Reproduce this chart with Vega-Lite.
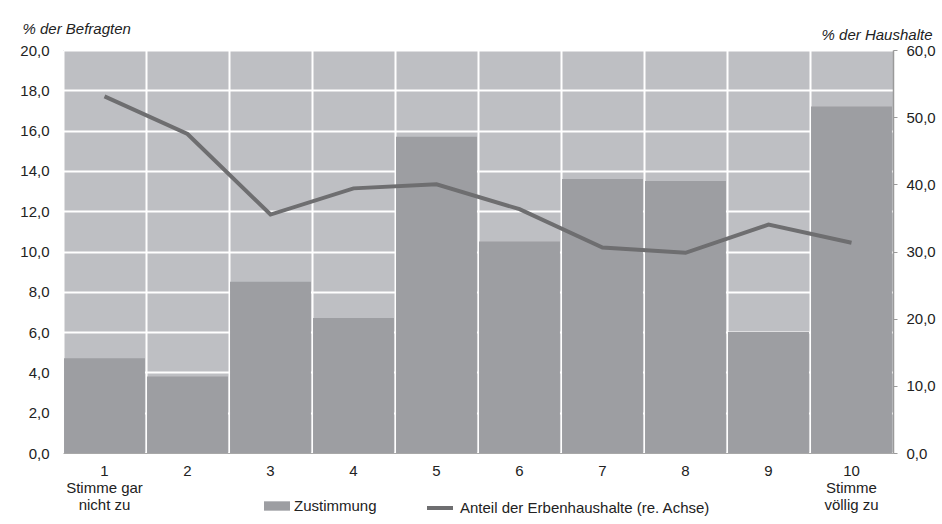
{
  "$schema": "https://vega.github.io/schema/vega-lite/v6.json",
  "width": 830,
  "height": 403,
  "autosize": "none",
  "padding": {"left": 63, "top": 50, "right": 49, "bottom": 71},
  "background": "white",
  "config": {
    "view": {"fill": "#bebfc3", "stroke": null},
    "font": "Liberation Sans",
    "axis": {"labelFont": "Liberation Sans", "titleFont": "Liberation Sans", "labelColor": "#222222", "titleColor": "#222222"},
    "legend": {"labelFont": "Liberation Sans", "labelColor": "#222222", "padding": 0}
  },
  "data": {
    "values": [
      {"k": 1, "zust": 4.7, "erben": 53.1},
      {"k": 2, "zust": 3.8, "erben": 47.5},
      {"k": 3, "zust": 8.5, "erben": 35.5},
      {"k": 4, "zust": 6.7, "erben": 39.4},
      {"k": 5, "zust": 15.7, "erben": 40.0},
      {"k": 6, "zust": 10.5, "erben": 36.3},
      {"k": 7, "zust": 13.6, "erben": 30.6},
      {"k": 8, "zust": 13.5, "erben": 29.8},
      {"k": 9, "zust": 6.0, "erben": 34.0},
      {"k": 10, "zust": 17.2, "erben": 31.3}
    ]
  },
  "encoding": {
    "x": {
      "field": "k",
      "type": "ordinal",
      "scale": {"paddingInner": 0, "paddingOuter": 0},
      "axis": {
        "title": null,
        "labelAngle": 0,
        "labelFontSize": 15,
        "labelPadding": 10,
        "labelLineHeight": 17,
        "labelExpr": "datum.value == 1 ? ['1', '\u00a0\u00a0\u00a0\u00a0\u00a0\u00a0Stimme gar', 'nicht zu'] : datum.value == 10 ? ['10', 'Stimme', 'völlig zu'] : datum.label",
        "ticks": false,
        "domain": true,
        "domainColor": "#a8a8a8",
        "domainWidth": 1,
        "grid": true,
        "bandPosition": 0,
        "gridColor": "#ffffff",
        "gridWidth": 2,
        "gridOpacity": 1
      }
    }
  },
  "layer": [
    {
      "mark": {"type": "bar", "width": {"band": 0.975}},
      "encoding": {
        "y": {
          "field": "zust",
          "type": "quantitative",
          "scale": {"domain": [0, 20], "nice": false},
          "axis": {
            "title": "% der Befragten",
            "titleAngle": 0,
            "titleFontStyle": "italic",
            "titleFontWeight": "normal",
            "titleFontSize": 15,
            "titleAlign": "left",
            "titleBaseline": "middle",
            "titleX": -41,
            "titleY": -22,
            "values": [0, 2, 4, 6, 8, 10, 12, 14, 16, 18, 20],
            "labelExpr": "replace(format(datum.value, '.1f'), '.', ',')",
            "labelFontSize": 15,
            "labelPadding": 14,
            "ticks": false,
            "domain": false,
            "grid": true,
            "gridColor": "#ffffff",
            "gridWidth": 2,
            "gridOpacity": 1
          }
        },
        "fill": {
          "datum": "Zustimmung",
          "type": "nominal",
          "scale": {"range": ["#9d9ea2"]},
          "legend": {
            "title": null,
            "orient": "none",
            "legendX": 201,
            "legendY": 443,
            "direction": "horizontal",
            "symbolType": "M-1,-0.36H1V0.36H-1Z",
            "symbolSize": 676,
            "symbolStrokeWidth": 0,
            "symbolOpacity": 1,
            "labelFontSize": 15,
            "labelOffset": 4,
            "labelLimit": 400
          }
        }
      }
    },
    {
      "mark": {"type": "line", "strokeWidth": 4},
      "encoding": {
        "y": {
          "field": "erben",
          "type": "quantitative",
          "scale": {"domain": [0, 60], "nice": false},
          "axis": {
            "orient": "right",
            "title": "% der Haushalte",
            "titleAngle": 0,
            "titleFontStyle": "italic",
            "titleFontWeight": "normal",
            "titleFontSize": 15,
            "titleAlign": "right",
            "titleBaseline": "middle",
            "titleX": 39,
            "titleY": -16,
            "values": [0, 10, 20, 30, 40, 50, 60],
            "labelExpr": "replace(format(datum.value, '.1f'), '.', ',')",
            "labelFontSize": 15,
            "labelPadding": 9,
            "ticks": true,
            "tickSize": 4,
            "tickColor": "#9a9a9a",
            "domain": true,
            "domainColor": "#9a9a9a",
            "domainWidth": 1.5,
            "grid": false
          }
        },
        "stroke": {
          "datum": "Anteil der Erbenhaushalte (re. Achse)",
          "type": "nominal",
          "scale": {"range": ["#6e6e70"]},
          "legend": {
            "title": null,
            "orient": "none",
            "legendX": 362,
            "legendY": 443,
            "direction": "horizontal",
            "symbolType": "stroke",
            "symbolSize": 676,
            "symbolStrokeWidth": 4,
            "labelFontSize": 15,
            "labelOffset": 5,
            "labelLimit": 400
          }
        }
      }
    }
  ],
  "resolve": {"scale": {"y": "independent"}}
}
